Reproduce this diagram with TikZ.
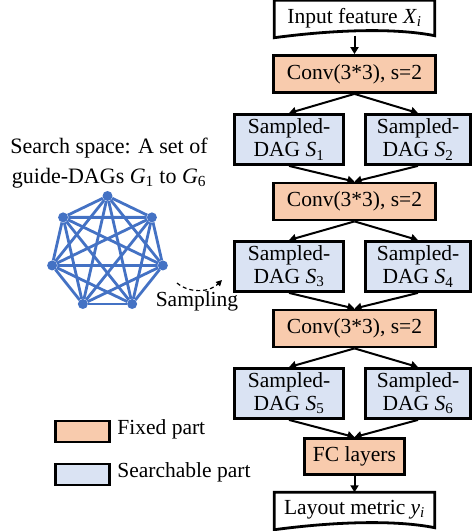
\documentclass[tikz,border=0pt]{standalone}
\usepackage{fontspec}
\setmainfont{Liberation Serif}
\usetikzlibrary{calc, arrows.meta}
\definecolor{fixcol}{HTML}{F8CBAD}
\definecolor{searchcol}{HTML}{DAE3F3}
\definecolor{dagblue}{HTML}{4472C4}
\newcommand{\mv}[2]{\textit{#1}\textsubscript{#2}}
\tikzstyle{fixed}=[draw, line width=2.8pt, fill=fixcol, minimum width=162pt, minimum height=37pt, inner sep=0]
\tikzstyle{sampled}=[draw, line width=2.8pt, fill=searchcol, minimum width=109pt, minimum height=50pt, inner sep=0, align=center, font=\fontsize{21.5}{23}\selectfont]
\tikzstyle{docnode}=[minimum width=160pt, minimum height=35pt, inner sep=0]
\tikzstyle{gv}=[shape=circle, minimum size=10pt, inner sep=0, fill=dagblue]
\tikzstyle{flow}=[line width=2pt, -{Triangle[length=7pt,width=8pt]}]

\begin{document}
\begin{tikzpicture}[x=1pt, y=-1pt, font=\fontsize{21.5}{24}\selectfont]
\useasboundingbox (0,0) rectangle (474,531);
% main column
\node at (354.5,18)[docnode](in){Input feature \mv{X}{\textit{i}}};
\draw[line width=2.8pt] (in.south west) -- (in.north west) -- (in.north east) -- (in.south east)
  .. controls ($(in.south east)+(-40,-8)$) and ($(in.south west)+(60,-6)$) .. ($(in.south west)+(0,2)$) -- cycle;
\node at (354.5,74)[fixed](c1){Conv(3*3), s=2};
\node at (289,139.5)[sampled](s1){Sampled-\\DAG \mv{S}{1}};
\node at (418,139.5)[sampled, minimum width=105pt](s2){Sampled-\\DAG \mv{S}{2}};
\node at (354.5,201.5)[fixed](c2){Conv(3*3), s=2};
\node at (289,266.5)[sampled](s3){Sampled-\\DAG \mv{S}{3}};
\node at (418,266.5)[sampled, minimum width=105pt](s4){Sampled-\\DAG \mv{S}{4}};
\node at (354.5,328.5)[fixed](c3){Conv(3*3), s=2};
\node at (289,393.5)[sampled](s5){Sampled-\\DAG \mv{S}{5}};
\node at (418,393.5)[sampled, minimum width=105pt](s6){Sampled-\\DAG \mv{S}{6}};
\node at (354.5,456.5)[fixed, minimum width=100pt, minimum height=36pt](fc){FC layers};
\node at (354.5,510)[docnode](out){Layout metric \mv{y}{\textit{i}}};
\draw[line width=2.8pt] (out.south west) -- (out.north west) -- (out.north east) -- (out.south east)
  .. controls ($(out.south east)+(-40,-8)$) and ($(out.south west)+(60,-6)$) .. ($(out.south west)+(0,2)$) -- cycle;
\draw[flow] (in.south) -- (c1);
\draw[flow] (c1.south) -- (s1.north);
\draw[flow] (c1.south) -- (s2.north);
\draw[flow] (s1.south) -- (c2.north);
\draw[flow] (s2.south) -- (c2.north);
\draw[flow] (c2.south) -- (s3.north);
\draw[flow] (c2.south) -- (s4.north);
\draw[flow] (s3.south) -- (c3.north);
\draw[flow] (s4.south) -- (c3.north);
\draw[flow] (c3.south) -- (s5.north);
\draw[flow] (c3.south) -- (s6.north);
\draw[flow] (s5.south) -- (fc.north);
\draw[flow] (s6.south) -- (fc.north);
\draw[flow] (fc.south) -- (out.north);
% search space
\node at (109,163)[align=center, font=\fontsize{22}{30}\selectfont](title){Search space: A set of\\guide-DAGs \mv{G}{1} to \mv{G}{6}};
\foreach \i in {0,...,6}
  \node at ({107.5+56.8*cos(90+\i*360/7)},{252.8-56.8*sin(90+\i*360/7)})[gv](g\i){};
\foreach \i in {0,...,5}{
  \pgfmathtruncatemacro\k{\i+1}
  \foreach \j in {\k,...,6}
    \draw[dagblue, line width=2.8pt] (g\i)--(g\j);
}
\coordinate (sa) at (177,283);
\coordinate (sb) at (222,280);
\draw[line width=1.2pt, dash pattern=on 4pt off 3pt, -{Triangle[length=6pt,width=6pt]}] (sa) .. controls (190,294) and (210,292) .. (sb);
\node at (197,301)(samp){Sampling};
% legend
\node at (82.5,431.5)[draw, line width=2.8pt, fill=fixcol, minimum width=54pt, minimum height=21pt, inner sep=0](fixkey){};
\node at (82.5,474.5)[draw, line width=2.8pt, fill=searchcol, minimum width=54pt, minimum height=21pt, inner sep=0](searchkey){};
\node[anchor=west] at ($(fixkey.east)+(3,-2)$)(fixtxt){Fixed part};
\node[anchor=west] at ($(searchkey.east)+(3,-2)$)(searchtxt){Searchable part};
\end{tikzpicture}
\end{document}
